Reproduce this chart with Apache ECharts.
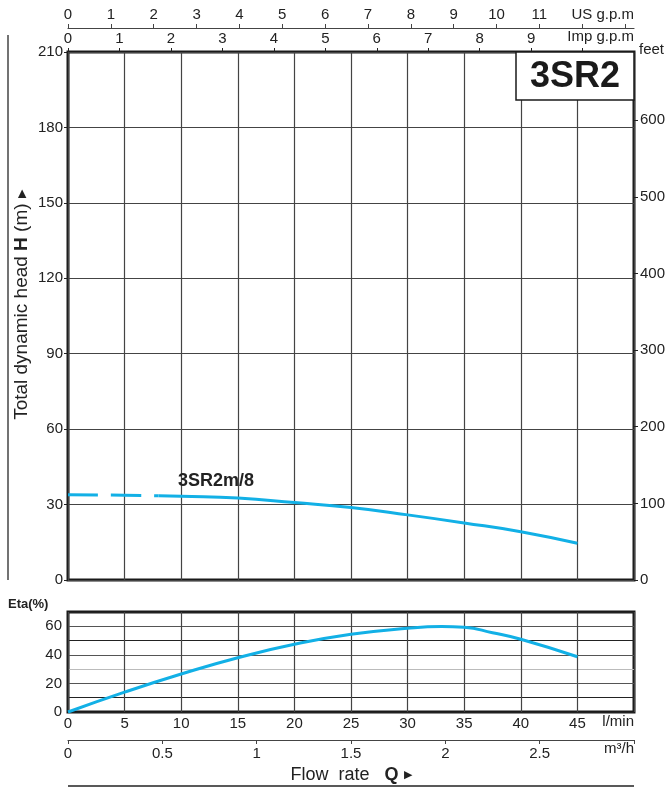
<!DOCTYPE html>
<html><head><meta charset="utf-8">
<script src="https://cdn.jsdelivr.net/npm/echarts@6/dist/echarts.min.js"></script>
<style>html,body{margin:0;padding:0;background:#fff}#c{width:672px;height:787px}</style>
</head><body><div id="c"></div>
<script>
// ---- data ----
const flowH = [0, 5, 8, 10, 15, 20, 25, 30, 35, 40, 45];            // l/min
const headH = [33.9, 33.7, 33.5, 33.3, 32.6, 30.8, 28.8, 25.9, 22.7, 19.2, 14.6]; // m
const dashEnd = 3; // first points drawn dashed
const flowEta = [0, 5, 10, 15, 20, 25, 30, 33, 35, 37.5, 40, 45];
const eta = [0, 13.9, 26.6, 38, 47.4, 54.4, 58.6, 59.8, 59.3, 55.5, 50.9, 38.7];
const curveName = '3SR2m/8';
const modelName = '3SR2';

const FONT = '"Liberation Sans Narrow","Liberation Sans",Arial,sans-serif';
const TXT = '#222';
const BLUE = '#12b0e6';
const pairs = (xs, ys) => xs.map((x, i) => [x, ys[i]]);
const hData = pairs(flowH, headH);
const etaData = pairs(flowEta, eta);

const chart = echarts.init(document.getElementById('c'), null, {renderer: 'canvas'});
const lbl = (extra) => Object.assign({color: TXT, fontSize: 15, fontFamily: FONT}, extra || {});

const option = {
  animation: false,
  grid: [
    {left: 68, top: 52, width: 566, height: 528, show: true, borderColor: '#1a1a1a', borderWidth: 3,
     backgroundColor: 'transparent', containLabel: false, outerBoundsMode: 'none'},
    {left: 68, top: 612, width: 566, height: 100, show: true, borderColor: '#1a1a1a', borderWidth: 3,
     backgroundColor: 'transparent', containLabel: false, outerBoundsMode: 'none'}
  ],
  xAxis: [
    {type: 'value', gridIndex: 0, min: 0, max: 50, interval: 5, position: 'bottom',
     axisLine: {show: false, onZero: false}, axisTick: {show: false}, axisLabel: {show: false},
     splitLine: {show: true, lineStyle: {color: '#444', width: 1.2}}},
    {type: 'value', gridIndex: 0, min: 0, max: 50 / 4.54609, interval: 1, position: 'top',
     axisLine: {show: false, onZero: false}, axisTick: {show: true, length: 4, lineStyle: {color: TXT, width: 1}},
     axisLabel: lbl({margin: 6, showMaxLabel: false, formatter: v => v <= 9 ? String(v) : ''}),
     splitLine: {show: false}},
    {type: 'value', gridIndex: 0, min: 0, max: 50 / 3.78541, interval: 1, position: 'top', offset: 24,
     axisLine: {show: true, onZero: false, lineStyle: {color: '#444', width: 1.2}},
     axisTick: {show: true, length: 4, lineStyle: {color: '#444', width: 1}},
     axisLabel: lbl({margin: 6, showMaxLabel: false, formatter: v => v <= 11 ? String(v) : ''}),
     splitLine: {show: false}},
    {type: 'value', gridIndex: 1, min: 0, max: 50, interval: 5, position: 'bottom',
     axisLine: {show: false, onZero: false}, axisTick: {show: false},
     axisLabel: lbl({margin: 4, formatter: v => v <= 45 ? String(v) : ''}),
     splitLine: {show: true, lineStyle: {color: '#444', width: 1.2}}},
    {type: 'value', gridIndex: 1, min: 0, max: 3, interval: 0.5, position: 'bottom', offset: 28,
     axisLine: {show: true, onZero: false, lineStyle: {color: '#444', width: 1.2}},
     axisTick: {show: true, length: 4, inside: false, lineStyle: {color: '#444', width: 1}},
     axisLabel: lbl({margin: 6, formatter: v => v < 3 ? String(v) : ''}),
     splitLine: {show: false}}
  ],
  yAxis: [
    {type: 'value', gridIndex: 0, min: 0, max: 210, interval: 30, position: 'left',
     axisLine: {show: false, onZero: false}, axisTick: {show: true, length: 4, lineStyle: {color: TXT}},
     axisLabel: lbl({margin: 5}),
     splitLine: {show: true, lineStyle: {color: '#444', width: 1.2}}},
    {type: 'value', gridIndex: 0, min: 0, max: 210 * 3.28084, interval: 100, position: 'right',
     axisLine: {show: false, onZero: false}, axisTick: {show: true, length: 4, lineStyle: {color: TXT}},
     axisLabel: lbl({margin: 6, showMaxLabel: false, formatter: v => v % 100 === 0 ? String(v) : ''}),
     splitLine: {show: false}},
    {type: 'value', gridIndex: 1, min: 0, max: 70, interval: 10, position: 'left',
     axisLine: {show: false, onZero: false}, axisTick: {show: false},
     axisLabel: lbl({margin: 6, formatter: v => v % 20 === 0 ? String(v) : ''}),
     splitLine: {show: true, lineStyle: {width: 1.2,
       color: ['#222', '#222', '#555', '#bbb', '#555', '#222', '#555', '#222']}}}
  ],
  series: [
    {type: 'line', xAxisIndex: 0, yAxisIndex: 0, data: hData.slice(0, dashEnd), smooth: true,
     showSymbol: false, lineStyle: {color: BLUE, width: 3, type: [30, 13]}, z: 5},
    {type: 'line', xAxisIndex: 0, yAxisIndex: 0, data: hData.slice(dashEnd - 1), smooth: true,
     showSymbol: false, lineStyle: {color: BLUE, width: 3}, z: 5},
    {type: 'line', xAxisIndex: 3, yAxisIndex: 2, data: etaData, smooth: true,
     showSymbol: false, lineStyle: {color: BLUE, width: 3}, z: 5}
  ],
  graphic: [
    {type: 'text', x: 634, y: 15, style: {text: 'US g.p.m', font: '15px ' + FONT, fill: TXT, align: 'right', verticalAlign: 'middle'}},
    {type: 'text', x: 634, y: 37, style: {text: 'Imp g.p.m', font: '15px ' + FONT, fill: TXT, align: 'right', verticalAlign: 'middle'}},
    {type: 'text', x: 639, y: 50, style: {text: 'feet', font: '15px ' + FONT, fill: TXT, align: 'left', verticalAlign: 'middle'}},
    {type: 'text', x: 634, y: 722, style: {text: 'l/min', font: '15px ' + FONT, fill: TXT, align: 'right', verticalAlign: 'middle'}},
    {type: 'text', x: 634, y: 749, style: {text: 'm³/h', font: '15px ' + FONT, fill: TXT, align: 'right', verticalAlign: 'middle'}},
    {type: 'text', x: 8, y: 604, style: {text: 'Eta(%)', font: 'bold 13px ' + FONT, fill: TXT, align: 'left', verticalAlign: 'middle'}},
    {type: 'line', shape: {x1: 8, y1: 35, x2: 8, y2: 580}, style: {stroke: '#444', lineWidth: 1.5}},
    {type: 'line', shape: {x1: 68, y1: 786, x2: 634, y2: 786}, style: {stroke: '#222', lineWidth: 1.5}},
    {type: 'text', x: 22, y: 305, rotation: Math.PI / 2,
     style: {rich: {n: {font: '19px ' + FONT, fill: TXT}, b: {font: 'bold 19px ' + FONT, fill: TXT}, t: {font: '11px ' + FONT, fill: TXT}},
       text: '{n|Total dynamic head }{b|H}{n| (m) }{t|▶}', align: 'center', verticalAlign: 'middle'}},
    {type: 'text', x: 351, y: 775,
     style: {rich: {n: {font: '18px ' + FONT, fill: TXT}, b: {font: 'bold 18px ' + FONT, fill: TXT}, t: {font: '11px ' + FONT, fill: TXT}},
       text: '{n|Flow  rate   }{b|Q }{t|▶}', align: 'center', verticalAlign: 'middle'}},
    {type: 'rect', shape: {x: 516, y: 52, width: 118, height: 48}, style: {fill: '#fff', stroke: '#1a1a1a', lineWidth: 1.5}, z: 10},
    {type: 'text', x: 575, y: 77, z: 11, style: {text: modelName, font: 'bold 36px "Liberation Sans",Arial,sans-serif', fill: '#1a1a1a', align: 'center', verticalAlign: 'middle'}},
    {type: 'text', x: 216, y: 481, z: 11, style: {text: curveName, font: 'bold 18px "Liberation Sans",Arial,sans-serif', fill: '#222', align: 'center', verticalAlign: 'middle'}}
  ]
};
chart.setOption(option);
</script>
</body></html>
